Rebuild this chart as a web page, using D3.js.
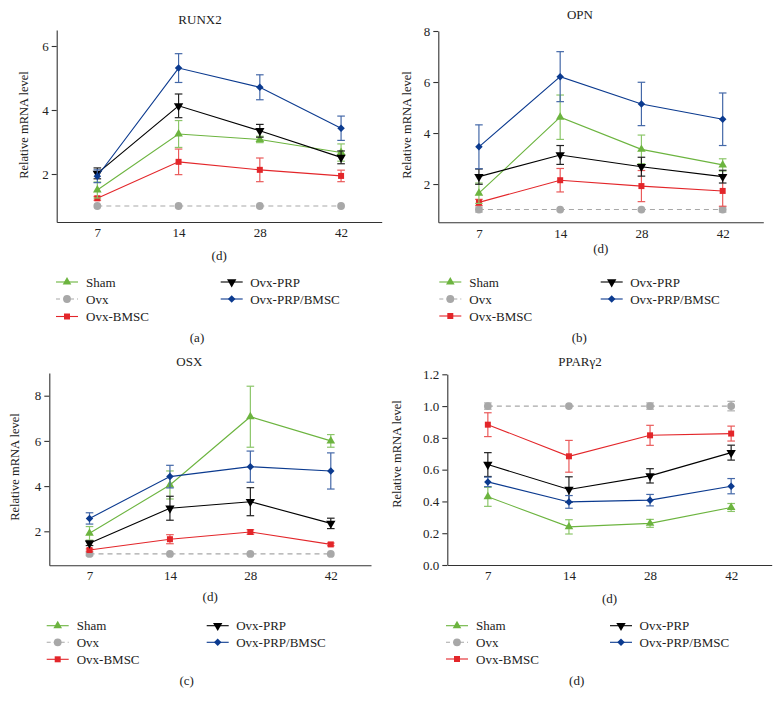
<!DOCTYPE html>
<html><head><meta charset="utf-8">
<script src="https://cdn.jsdelivr.net/npm/d3@7"></script>
<style>body{margin:0;background:#fff}svg{display:block}</style>
</head><body>
<script>
// ---------- DATA ----------
const days = ["7", "14", "28", "42"];
const groups = ["Sham", "Ovx", "Ovx-BMSC", "Ovx-PRP", "Ovx-PRP/BMSC"];
const genes = ["RUNX2", "OPN", "OSX", "PPARγ2"];
const panelLetters = ["(a)", "(b)", "(c)", "(d)"];
const xAxisTitle = "(d)";
const yAxisTitle = "Relative mRNA level";

// means per group: [Sham, Ovx, Ovx-BMSC, Ovx-PRP, Ovx-PRP/BMSC]
const runx2Mean = [[1.50, 3.25, 3.08, 2.67], [1, 1, 1, 1], [1.24, 2.38, 2.13, 1.94], [2.02, 4.13, 3.35, 2.52], [1.93, 5.31, 4.71, 3.43]];
const runx2Err  = [[0.25, 0.42, 0.10, 0.27], [0, 0, 0, 0], [0.06, 0.40, 0.37, 0.18], [0.17, 0.37, 0.20, 0.20], [0.20, 0.45, 0.39, 0.38]];
const opnMean   = [[1.64, 4.62, 3.36, 2.75], [1, 1, 1, 1], [1.28, 2.15, 1.92, 1.73], [2.29, 3.14, 2.68, 2.29], [3.46, 6.21, 5.14, 4.54]];
const opnErr    = [[0.40, 0.87, 0.56, 0.24], [0.10, 0, 0, 0.10], [0.12, 0.46, 0.61, 0.60], [0.30, 0.37, 0.37, 0.25], [0.86, 0.98, 0.85, 1.03]];
const osxMean   = [[1.91, 4.05, 7.07, 6.00], [1, 1, 1, 1], [1.17, 1.65, 1.97, 1.42], [1.47, 3.02, 3.31, 2.35], [2.57, 4.42, 4.86, 4.67]];
const osxErr    = [[0.30, 0.62, 1.35, 0.28], [0.08, 0, 0, 0], [0.05, 0.20, 0.10, 0.06], [0.10, 0.53, 0.62, 0.23], [0.25, 0.50, 0.69, 0.80]];
const pparMean  = [[0.429, 0.240, 0.262, 0.362], [1, 1, 1, 1], [0.883, 0.684, 0.816, 0.827], [0.632, 0.475, 0.561, 0.707], [0.523, 0.397, 0.408, 0.496]];
const pparErr   = [[0.060, 0.045, 0.025, 0.025], [0.020, 0, 0.020, 0.030], [0.075, 0.100, 0.063, 0.047], [0.075, 0.080, 0.045, 0.047], [0.030, 0.040, 0.036, 0.048]];

const yDomains = [[0.5, 6.5], [0.5, 8], [0.5, 9], [0, 1.2]];
const yTicks = [[2, 4, 6], [2, 4, 6, 8], [2, 4, 6, 8], [0, 0.2, 0.4, 0.6, 0.8, 1.0, 1.2]];
const yTickFormats = ["d", "d", "d", ".1f"];

// ---------- STYLE / LAYOUT ----------
const FONT = '"Liberation Serif","Times New Roman",serif';
const colors = ["#6cb43f", "#a8a8a8", "#e3262a", "#000000", "#0b3a8f"];
const errColors = ["#8cc66a", "#b0b0b0", "#ea5a5a", "#222222", "#4468a8"];
const symbols = ["tri-up", "circle", "square", "tri-down", "diamond"];
const symSizes = [32, 48, 36, 38, 28];
const drawOrder = [1, 2, 0, 3, 4];

const layout = [
  {x0: 56.7, x1: 381.7, yr: [222, 30], title: [200, 19], ylab: [23, 125], xt: 222, dlab: 255, leg: [282, 299, 316.5], legL: 56, legR: 220.7, sub: [197, 337]},
  {x0: 438.3, x1: 763.3, yr: [222.3, 31], title: [580, 14], ylab: [406, 125], xt: 222.3, dlab: 248.5, leg: [282, 299, 316], legL: 439.3, legR: 600.7, sub: [579.3, 337]},
  {x0: 49.3, x1: 371, yr: [565.2, 373.1], title: [189.3, 361.7], ylab: [14.5, 467], xt: 565.2, dlab: 596, leg: [625.7, 642.3, 659.3], legL: 46.7, legR: 206.7, sub: [186.7, 680]},
  {x0: 447.3, x1: 771.7, yr: [565, 374.3], title: [580, 361.7], ylab: [396.7, 454], xt: 565, dlab: 598.3, leg: [625.7, 642.3, 659], legL: 446, legR: 610, sub: [576.7, 680.7]}
];

const means = [runx2Mean, opnMean, osxMean, pparMean];
const errs = [runx2Err, opnErr, osxErr, pparErr];

const svg = d3.select("body").append("svg").attr("width", 781).attr("height", 707)
  .style("font-family", FONT);

function marker(sel, g, x, y) {
  const s = symbols[g], size = symSizes[g];
  let d, rot = 0;
  if (s === "tri-up") d = d3.symbol(d3.symbolTriangle, size)();
  else if (s === "tri-down") { d = d3.symbol(d3.symbolTriangle, size)(); rot = 180; }
  else if (s === "circle") d = d3.symbol(d3.symbolCircle, size)();
  else if (s === "square") d = d3.symbol(d3.symbolSquare, size)();
  else { d = d3.symbol(d3.symbolSquare, size)(); rot = 45; }
  sel.append("path").attr("d", d).attr("fill", colors[g]).attr("transform", `translate(${x},${y}) rotate(${rot})`);
}
function txt(sel) {
  return sel.append("text").style("font-family", FONT).attr("fill", "#222");
}

layout.forEach((L, pi) => {
  const g = svg.append("g");
  const x = d3.scalePoint().domain(days).range([L.x0, L.x1]).padding(0.5);
  const y = d3.scaleLinear().domain(yDomains[pi]).range(L.yr);

  const ya = g.append("g").attr("transform", `translate(${L.x0},0)`)
    .call(d3.axisLeft(y).tickValues(yTicks[pi]).tickFormat(d3.format(yTickFormats[pi])).tickSize(5).tickSizeOuter(0).tickPadding(3));
  const xa = g.append("g").attr("transform", `translate(0,${L.xt})`)
    .call(d3.axisBottom(x).tickSize(0).tickSizeOuter(0).tickPadding(6));
  [ya, xa].forEach(a => {
    a.attr("font-family", null);
    a.selectAll("path,line").attr("stroke", "#333").attr("stroke-width", 1.1);
    a.selectAll("text").style("font-family", FONT).style("font-size", "13px").attr("fill", "#222");
  });

  txt(g).attr("x", L.title[0]).attr("y", L.title[1] + 4.5).attr("text-anchor", "middle").style("font-size", "13px").text(genes[pi]);
  txt(g).attr("transform", `translate(${L.ylab[0] + 4.5},${L.ylab[1]}) rotate(-90)`).attr("text-anchor", "middle").style("font-size", "12.5px").text(yAxisTitle);
  txt(g).attr("x", (L.x0 + L.x1) / 2).attr("y", L.dlab + 4.5).attr("text-anchor", "middle").style("font-size", "13px").text(xAxisTitle);
  txt(g).attr("x", L.sub[0]).attr("y", L.sub[1] + 4.5).attr("text-anchor", "middle").style("font-size", "13px").text(panelLetters[pi]);

  drawOrder.forEach(gi => {
    const m = means[pi][gi], e = errs[pi][gi];
    const sg = g.append("g");
    days.forEach((d, i) => {
      if (e[i] <= 0) return;
      const cx = x(d), yt = y(m[i] + e[i]), yb = y(m[i] - e[i]);
      sg.append("line").attr("x1", cx).attr("x2", cx).attr("y1", yt).attr("y2", yb).attr("stroke", errColors[gi]).attr("stroke-width", 1.2);
      [yt, yb].forEach(yy => sg.append("line").attr("x1", cx - 3.8).attr("x2", cx + 3.8).attr("y1", yy).attr("y2", yy).attr("stroke", errColors[gi]).attr("stroke-width", 1.2));
    });
    const line = d3.line().x((v, i) => x(days[i])).y(v => y(v));
    sg.append("path").attr("d", line(m)).attr("fill", "none").attr("stroke", colors[gi]).attr("stroke-width", 1.1)
      .attr("stroke-dasharray", gi === 1 ? "5,4" : null);
    days.forEach((d, i) => marker(sg, gi, x(d), y(m[i])));
  });

  const legPos = [[L.legL, L.leg[0]], [L.legL, L.leg[1]], [L.legL, L.leg[2]], [L.legR, L.leg[0]], [L.legR, L.leg[1]]];
  groups.forEach((name, gi) => {
    const [lx, ly] = legPos[gi];
    const lg = g.append("g");
    lg.append("line").attr("x1", lx).attr("x2", lx + 22).attr("y1", ly).attr("y2", ly).attr("stroke", colors[gi]).attr("stroke-width", 1.1)
      .attr("stroke-dasharray", gi === 1 ? "4,3" : null);
    marker(lg, gi, lx + 11, ly);
    txt(lg).attr("x", lx + (gi < 3 ? 30 : 29.5)).attr("y", ly + 4.5).style("font-size", "13px").text(name);
  });
});
</script>
</body></html>
